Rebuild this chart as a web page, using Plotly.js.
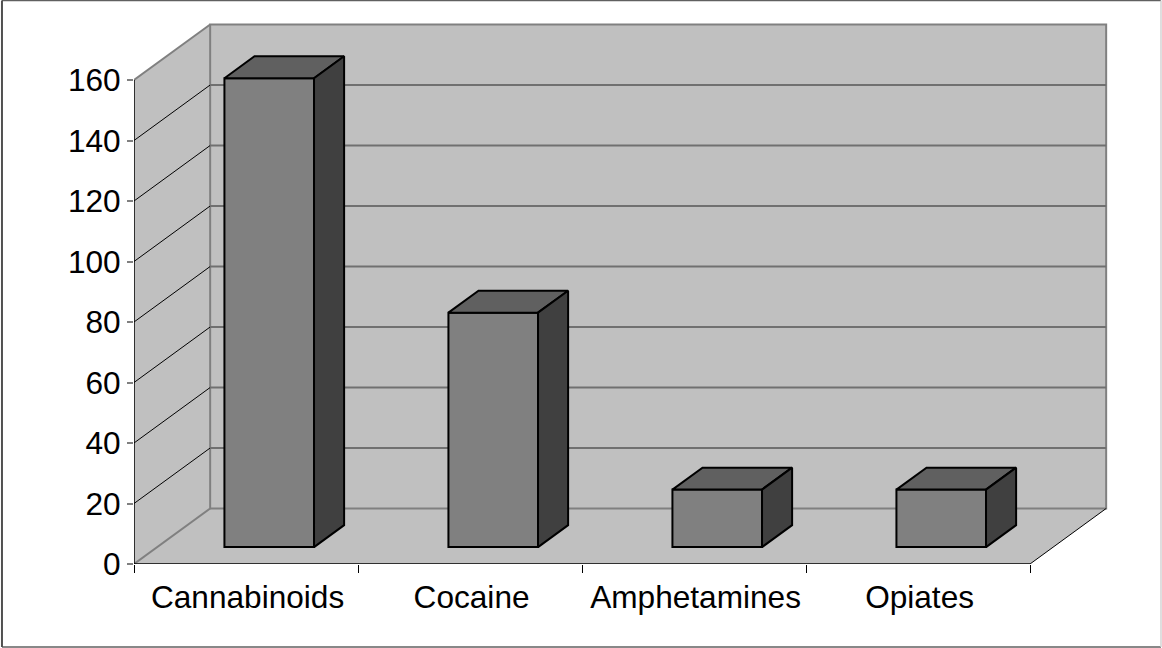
<!DOCTYPE html>
<html>
<head>
<meta charset="utf-8">
<script src="https://cdn.plot.ly/plotly-3.0.1.min.js"></script>
<style>html,body{margin:0;padding:0;background:#fff}</style>
</head>
<body>
<div id="chart" style="width:1162px;height:648px"></div>
<script>
const categories = ['Cannabinoids', 'Cocaine', 'Amphetamines', 'Opiates'];
const values = [155, 77.5, 19, 19];
const valueTicks = [0, 20, 40, 60, 80, 100, 120, 140, 160];

// Oblique projection: how far the chart's full depth shifts a point, in axis units.
const depthX = 0.34;
const depthY = 18.35;
const barWidth = 0.4;
const barDepthStart = 0.305;
const barDepthEnd = 0.7;

const WALL = '#c0c0c0', EDGE = '#808080', GRID = '#707070';
const FRONT = '#808080', TOP = '#606060', SIDE = '#404040';

const project = (x, v, d) => [x + d * depthX, v + d * depthY];

function polygon(points, fill, line) {
  const path = points.map((p, i) => (i ? 'L' : 'M') + p[0] + ',' + p[1]).join(' ') + ' Z';
  return {type: 'path', xref: 'x', yref: 'y', layer: 'below', path: path,
          fillcolor: fill, line: line || {width: 0}};
}
function segment(a, b, color, width) {
  return {type: 'line', xref: 'x', yref: 'y', layer: 'below',
          x0: a[0], y0: a[1], x1: b[0], y1: b[1], line: {color: color, width: width}};
}
function frameLine(x0, y0, x1, y1, color, width) {
  return {type: 'line', xref: 'paper', yref: 'paper', layer: 'below',
          x0: x0, y0: y0, x1: x1, y1: y1, line: {color: color, width: width}};
}

const n = categories.length;
const topTick = valueTicks[valueTicks.length - 1];
const frameL = -0.135, frameR = 1.0501, frameB = -0.1526, frameT = 1.0358;
const shapes = [
  // Chart frame: the right edge is lighter than the other three
  frameLine(frameL, frameT, frameR, frameT, '#606060', 1.5),
  frameLine(frameL, frameB, frameR, frameB, '#606060', 1.5),
  frameLine(frameL, frameB, frameL, frameT, '#505050', 2),
  frameLine(frameR, frameB, frameR, frameT, '#d4d4d4', 1.5),
  // Floor, side wall, back wall
  polygon([project(0, 0, 0), project(n, 0, 0), project(n, 0, 1), project(0, 0, 1)], WALL),
  polygon([project(0, 0, 0), project(0, 0, 1), project(0, topTick, 1), project(0, topTick, 0)], WALL),
  polygon([project(0, 0, 1), project(n, 0, 1), project(n, topTick, 1), project(0, topTick, 1)], WALL,
          {color: EDGE, width: 2})
];
valueTicks.slice(1, -1).forEach(v => {
  shapes.push(segment(project(0, v, 0), project(0, v, 1), '#000000', 1));
  shapes.push(segment(project(0, v, 1), project(n, v, 1), GRID, 2));
});
shapes.push(segment(project(0, 0, 0), project(0, 0, 1), EDGE, 2));
shapes.push(segment(project(0, topTick, 0), project(0, topTick, 1), EDGE, 2));
shapes.push(segment(project(n, 0, 0), project(n, 0, 1), '#000000', 1));
shapes.push(segment(project(0, 0, 0), project(0, topTick, 0), '#000000', 1.5));
shapes.push(segment(project(0, 0, 0), project(n, 0, 0), '#000000', 1.5));

// Front faces
const centers = categories.map((c, i) => i + 0.5);
const traces = [{
  type: 'bar',
  x: centers.map(c => c + barDepthStart * depthX),
  y: values,
  base: values.map(() => barDepthStart * depthY),
  width: barWidth,
  marker: {color: FRONT, line: {color: '#000000', width: 2}},
  hoverinfo: 'skip'
}];

// Top and right faces of each box
function face(points, fill) {
  const closed = points.concat([points[0]]);
  return {type: 'scatter', mode: 'lines', x: closed.map(p => p[0]), y: closed.map(p => p[1]),
          fill: 'toself', fillcolor: fill, line: {color: '#000000', width: 2},
          hoverinfo: 'skip', cliponaxis: false};
}
centers.forEach((c, i) => {
  const l = c - barWidth / 2, r = c + barWidth / 2, v = values[i];
  const a = barDepthStart, b = barDepthEnd;
  traces.push(face([project(l, v, a), project(r, v, a), project(r, v, b), project(l, v, b)], TOP));
  traces.push(face([project(r, 0, a), project(r, 0, b), project(r, v, b), project(r, v, a)], SIDE));
});

const layout = {
  width: 1162, height: 648, autosize: false,
  margin: {l: 134, r: 50, t: 20, b: 84},
  paper_bgcolor: '#ffffff', plot_bgcolor: 'rgba(0,0,0,0)',
  showlegend: false,
  font: {family: '"Liberation Sans", Arial, sans-serif', size: 31.6, color: '#000000'},
  xaxis: {
    range: [0, 978 / 224], fixedrange: true, showgrid: false, zeroline: false, showline: false,
    tickmode: 'array', tickvals: centers.map(c => c + 0.007), ticktext: categories, ticks: '',
    tickfont: {size: 31.6}, ticklabelstandoff: 11,
    minor: {tickmode: 'array', tickvals: [0, 1, 2, 3, 4], ticks: 'outside', ticklen: 8,
            tickcolor: '#000000', tickwidth: 1, showgrid: false}
  },
  yaxis: {
    range: [0, 544 / 3.025], fixedrange: true, showgrid: false, zeroline: false, showline: false,
    tickmode: 'array', tickvals: valueTicks, ticks: 'outside', ticklen: 6,
    tickcolor: EDGE, tickwidth: 2, tickfont: {size: 31.6}, ticklabelstandoff: 0
  },
  shapes: shapes
};

Plotly.newPlot('chart', traces, layout, {displayModeBar: false, staticPlot: true});
</script>
</body>
</html>
